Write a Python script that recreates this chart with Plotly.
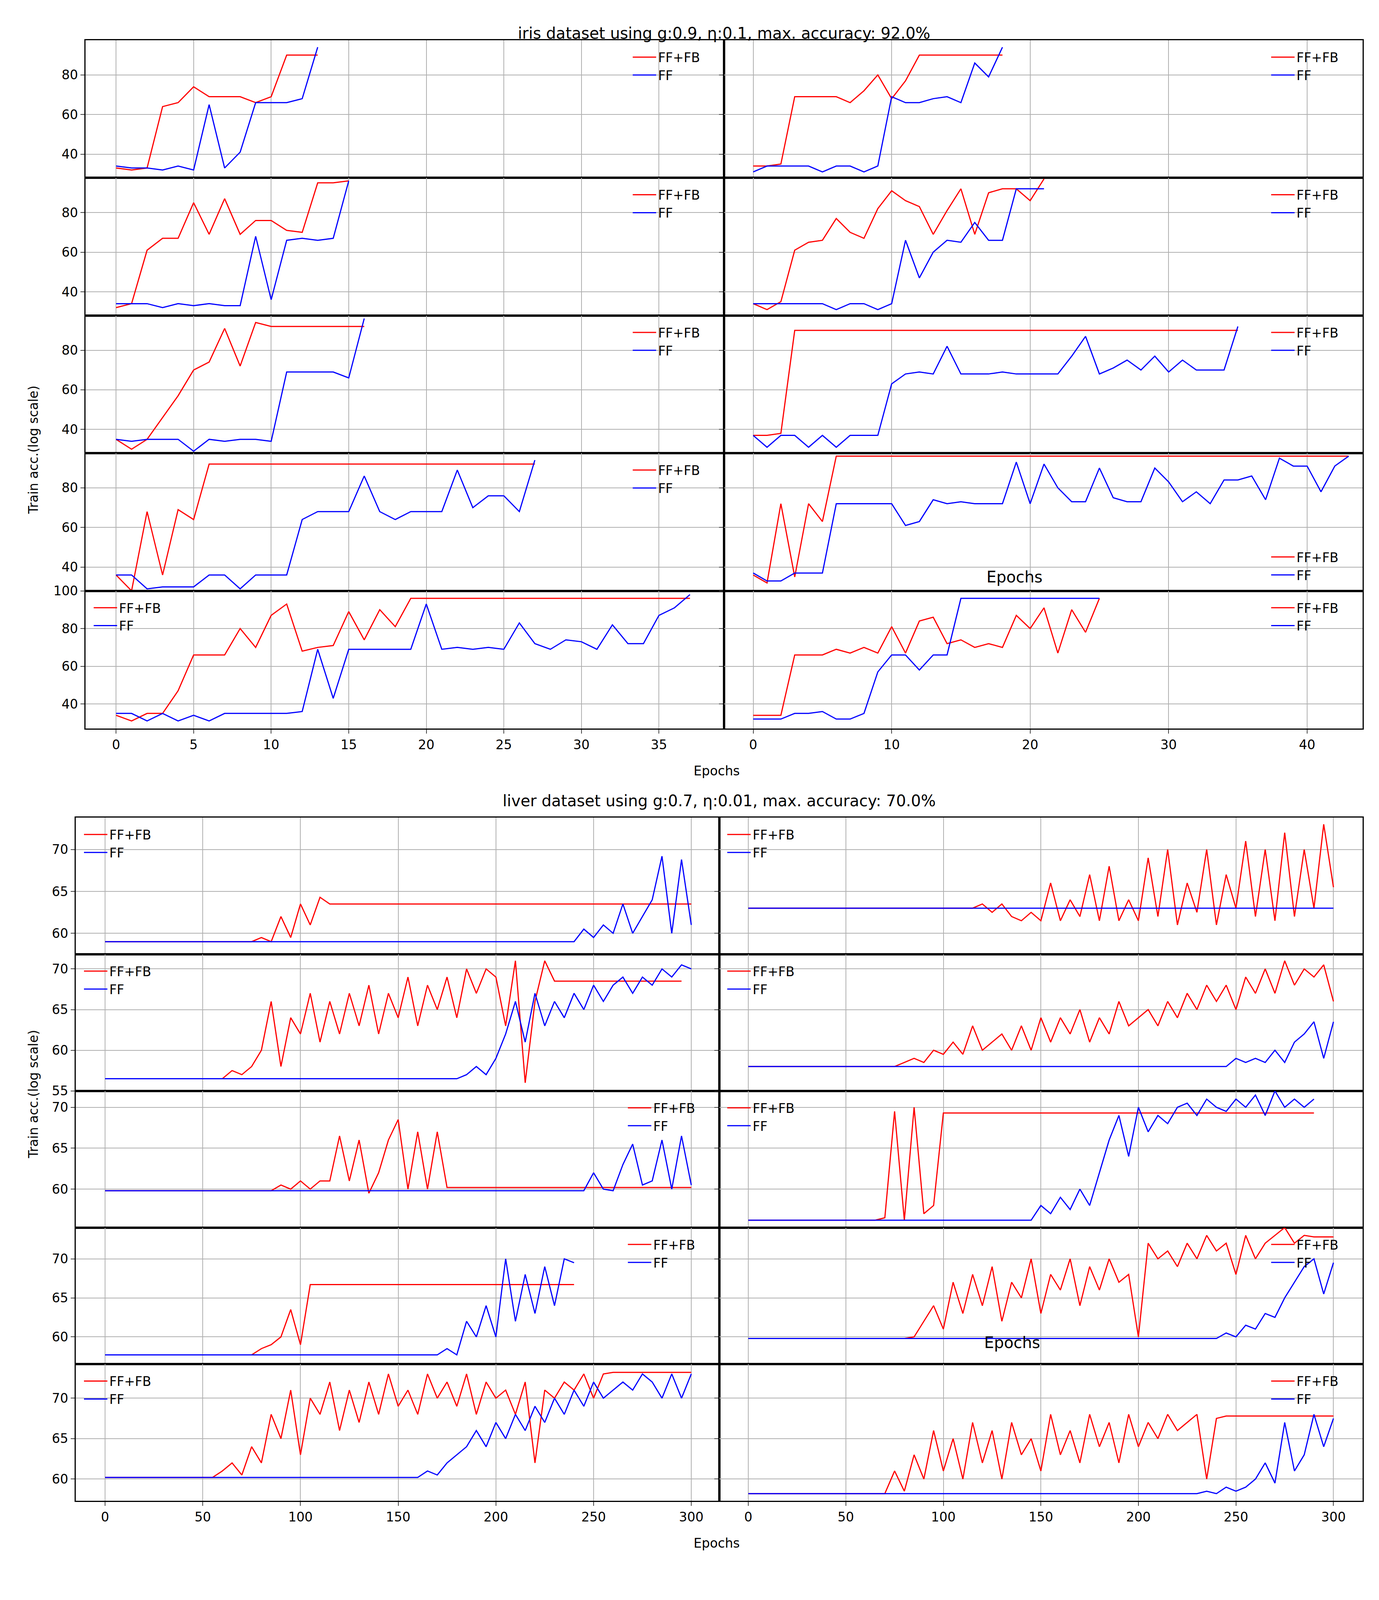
import plotly.graph_objects as go

PXW, PXH = 1131.0, 1568.0  # reference measured at this scale

# ---------------- iris data (one value per epoch) ----------------
iris_ffb = [
    [33, 32, 33, 64, 66, 74, 69, 69, 69, 66, 69, 90, 90, 90],
    [34, 34, 35, 69, 69, 69, 69, 66, 72, 80, 68, 77, 90, 90, 90, 90, 90, 90, 90],
    [32, 34, 61, 67, 67, 85, 69, 87, 69, 76, 76, 71, 70, 95, 95, 96],
    [34, 31, 35, 61, 65, 66, 77, 70, 67, 82, 91, 86, 83, 69, 81, 92, 69, 90, 92, 92, 86, 97],
    [35, 30, 35, 46, 57, 70, 74, 91, 72, 94, 92, 92, 92, 92, 92, 92, 92],
    [37, 37, 38] + [90] * 33,
    [36, 28, 68, 36, 69, 64] + [92] * 22,
    [36, 32, 72, 35, 72, 63] + [96] * 38,
    [34, 31, 35, 35, 47, 66, 66, 66, 80, 70, 87, 93, 68, 70, 71, 89, 74, 90, 81] + [96] * 19,
    [34, 34, 34, 66, 66, 66, 69, 67, 70, 67, 81, 67, 84, 86, 72, 74, 70, 72, 70, 87, 80, 91, 67, 90, 78, 96],
]
iris_ff = [
    [34, 33, 33, 32, 34, 32, 65, 33, 41, 66, 66, 66, 68, 94],
    [31, 34, 34, 34, 34, 31, 34, 34, 31, 34, 69, 66, 66, 68, 69, 66, 86, 79, 94],
    [34, 34, 34, 32, 34, 33, 34, 33, 33, 68, 36, 66, 67, 66, 67, 96],
    [34, 34, 34, 34, 34, 34, 31, 34, 34, 31, 34, 66, 47, 60, 66, 65, 75, 66, 66, 92, 92, 92],
    [35, 34, 35, 35, 35, 29, 35, 34, 35, 35, 34, 69, 69, 69, 69, 66, 96],
    [37, 31, 37, 37, 31, 37, 31, 37, 37, 37, 63, 68, 69, 68, 82, 68, 68, 68, 69, 68, 68, 68,
     68, 77, 87, 68, 71, 75, 70, 77, 69, 75, 70, 70, 70, 92],
    [36, 36, 29, 30, 30, 30, 36, 36, 29, 36, 36, 36, 64, 68, 68, 68, 86, 68, 64, 68, 68, 68,
     89, 70, 76, 76, 68, 94],
    [37, 33, 33, 37, 37, 37, 72, 72, 72, 72, 72, 61, 63, 74, 72, 73, 72, 72, 72, 93, 72, 92,
     80, 73, 73, 90, 75, 73, 73, 90, 83, 73, 78, 72, 84, 84, 86, 74, 95, 91, 91, 78, 91, 96],
    [35, 35, 31, 35, 31, 34, 31, 35, 35, 35, 35, 35, 36, 69, 43, 69, 69, 69, 69, 69, 93, 69,
     70, 69, 70, 69, 83, 72, 69, 74, 73, 69, 82, 72, 72, 87, 91, 98],
    [32, 32, 32, 35, 35, 36, 32, 32, 35, 57, 66, 66, 58, 66, 66] + [96] * 11,
]

# ---------------- liver data (read every 5 epochs) ----------------
liver_step = 5
liver_ffb = [
    [59] * 16 + [59.5, 59, 62, 59.5, 63.5, 61, 64.3] + [63.5] * 38,
    [63] * 24 + [63.5, 62.5, 63.5, 62, 61.5, 62.5, 61.5, 66, 61.5, 64, 62, 67, 61.5, 68, 61.5,
                 64, 61.5, 69, 62, 70, 61, 66, 62.5, 70, 61, 67, 63, 71, 62, 70, 61.5, 72, 62,
                 70, 63, 73, 65.5],
    [56.5] * 13 + [57.5, 57, 58, 60, 66, 58, 64, 62, 67, 61, 66, 62, 67, 63, 68, 62, 67, 64,
                   69, 63, 68, 65, 69, 64, 70, 67, 70, 69, 63, 71, 56, 66, 71] + [68.5] * 14,
    [58] * 16 + [58.5, 59, 58.5, 60, 59.5, 61, 59.5, 63, 60, 61, 62, 60, 63, 60, 64, 61, 64,
                 62, 65, 61, 64, 62, 66, 63, 64, 65, 63, 66, 64, 67, 65, 68, 66, 68, 65, 69,
                 67, 70, 67, 71, 68, 70, 69, 70.5, 66],
    [59.8] * 18 + [60.5, 60, 61, 60, 61, 61, 66.5, 61, 66, 59.5, 62, 66, 68.5, 60, 67, 60, 67]
    + [60.2] * 26,
    [56.2] * 14 + [56.5, 69.5, 56.2, 70, 57, 58] + [69.3] * 39,
    [57.7] * 16 + [58.5, 59, 60, 63.5, 59] + [66.7] * 28,
    [59.8] * 17 + [60, 62, 64, 61, 67, 63, 68, 64, 69, 62, 67, 65, 70, 63, 68, 66, 70, 64, 69,
                   66, 70, 67, 68, 60, 72, 70, 71, 69, 72, 70, 73, 71, 72, 68, 73, 70, 72, 73,
                   74, 72, 73, 72.8, 72.8, 72.8],
    [60.2] * 12 + [61, 62, 60.5, 64, 62, 68, 65, 71, 63, 70, 68, 72, 66, 71, 67, 72, 68, 73,
                   69, 71, 68, 73, 70, 72, 69, 73, 68, 72, 70, 71, 68, 72, 62, 71, 70, 72, 71,
                   73, 70, 73] + [73.2] * 9,
    [58.2] * 15 + [61, 58.5, 63, 60, 66, 61, 65, 60, 67, 62, 66, 60, 67, 63, 65, 61, 68, 63,
                   66, 62, 68, 64, 67, 62, 68, 64, 67, 65, 68, 66, 67, 68, 60, 67.5]
    + [67.8] * 12,
]
liver_ff = [
    [59] * 49 + [60.5, 59.5, 61, 60, 63.5, 60, 62, 64, 69.2, 60, 68.8, 61],
    [63] * 61,
    [56.5] * 37 + [57, 58, 57, 59, 62, 66, 61, 67, 63, 66, 64, 67, 65, 68, 66, 68, 69, 67,
                   69, 68, 70, 69, 70.5, 70],
    [58] * 50 + [59, 58.5, 59, 58.5, 60, 58.5, 61, 62, 63.5, 59, 63.5],
    [59.8] * 50 + [62, 60, 59.8, 63, 65.5, 60.5, 61, 66, 60, 66.5, 60.5],
    [56.2] * 30 + [58, 57, 59, 57.5, 60, 58, 62, 66, 69, 64, 70, 67, 69, 68, 70, 70.5, 69, 71,
                   70, 69.5, 71, 70, 71.5, 69, 72, 70, 71, 70, 71],
    [57.7] * 35 + [58.5, 57.7, 62, 60, 64, 60, 70, 62, 68, 63, 69, 64, 70, 69.5],
    [59.8] * 49 + [60.5, 60, 61.5, 61, 63, 62.5, 65, 67, 69, 70, 65.5, 69.5],
    [60.2] * 33 + [61, 60.5, 62, 63, 64, 66, 64, 67, 65, 68, 66, 69, 67, 70, 68, 71, 69, 72,
                   70, 71, 72, 71, 73, 72, 70, 73, 70, 73],
    [58.2] * 47 + [58.5, 58.2, 59, 58.5, 59, 60, 62, 59.5, 67, 61, 63, 68, 64, 67.5],
]

iris_yticks = [40, 60, 80]
iris_yticks_last = [40, 60, 80, 100]
liver_yticks = [55, 60, 65, 70]

# ---------------- layout geometry (reference pixels at 1131x1568) ----------------
def px(v):
    return v / PXW

def py(v):
    return 1 - v / PXH

fig = go.Figure()
layout = {}
FONT = "DejaVu Sans"

sections = [
    dict(ffb=iris_ffb, ff=iris_ff, step=1, top=30, bot=725,
         cols=[(68, 594), (594, 1120)],
         xr=[[-1.96, 39.2], [-2.1, 44.0]],
         xt=[[0, 5, 10, 15, 20, 25, 30, 35], [0, 10, 20, 30, 40]],
         yr=[[28, 97.5]] * 4 + [[27, 100]],
         yt=[iris_yticks] * 4 + [iris_yticks_last],
         leg=[("tr", "tr"), ("tr", "tr"), ("tr", "tr"), ("tr", "br"), ("tl", "tr")]),
    dict(ffb=liver_ffb, ff=liver_ff, step=liver_step, top=815, bot=1505,
         cols=[(60, 590), (590, 1120)],
         xr=[[-14.9, 314.3], [-14.9, 314.9]],
         xt=[[0, 50, 100, 150, 200, 250, 300]] * 2,
         yr=[[57.5, 73.8], [55, 71.8], [55.3, 72], [56.5, 74], [57.3, 74.2]],
         yt=[liver_yticks] * 5,
         leg=[("tl", "tl"), ("tl", "tl"), ("tr", "tl"), ("tr", "tr"), ("tl", "tr")]),
]

k = 0
for s in sections:
    rh = (s["bot"] - s["top"]) / 5.0
    for r in range(5):
        for c in range(2):
            i = r * 2 + c
            k += 1
            xa, ya = f"xaxis{k}", f"yaxis{k}"
            xs, ys = f"x{k}", f"y{k}"
            x0, x1 = s["cols"][c]
            t, b = s["top"] + r * rh, s["top"] + (r + 1) * rh
            last = r == 4
            common = dict(showline=True, linecolor="black", linewidth=3, mirror=True,
                          showgrid=True, gridcolor="#b0b0b0", gridwidth=2, zeroline=False,
                          ticks="outside", ticklen=10, tickwidth=2,
                          tickfont=dict(family=FONT, size=33, color="black"))
            layout[xa] = dict(common, domain=[px(x0), px(x1)], anchor=ys, range=s["xr"][c],
                              tickvals=s["xt"][c], showticklabels=last)
            layout[ya] = dict(common, domain=[py(b), py(t)], anchor=xs, range=s["yr"][r],
                              tickvals=s["yt"][r], showticklabels=(c == 0))
            lg = "legend" if k == 1 else f"legend{k}"
            pos = s["leg"][r][c]
            if pos == "tr":
                lx, ly, xan, yan = px(x1 - 18), py(t + 6), "right", "top"
            elif pos == "tl":
                lx, ly, xan, yan = px(x0 + 5), py(t + 6), "left", "top"
            else:
                lx, ly, xan, yan = px(x1 - 18), py(b - 5), "right", "bottom"
            layout[lg] = dict(x=lx, y=ly, xanchor=xan, yanchor=yan, bgcolor="rgba(0,0,0,0)",
                              font=dict(family=FONT, size=33, color="black"),
                              itemwidth=60, tracegroupgap=0)
            for name, data, col in (("FF+FB", s["ffb"][i], "red"), ("FF", s["ff"][i], "blue")):
                fig.add_trace(go.Scatter(
                    x=[j * s["step"] for j in range(len(data))], y=data, mode="lines",
                    name=name, line=dict(color=col, width=3), xaxis=xs, yaxis=ys, legend=lg))

annotations = [
    dict(text="iris dataset using g:0.9, η:0.1, max. accuracy: 92.0%", x=px(594), y=py(13)),
    dict(text="liver dataset using g:0.7, η:0.01, max. accuracy: 70.0%", x=px(590), y=py(798)),
    dict(text="Epochs", x=px(588), y=py(768), size=33),
    dict(text="Epochs", x=px(588), y=py(1556), size=33),
    dict(text="Epochs", x=px(857), y=py(572), size=40),
    dict(text="Epochs", x=px(855), y=py(1355), size=40),
    dict(text="Train acc.(log scale)", x=px(18), y=py(378), size=33, angle=-90),
    dict(text="Train acc.(log scale)", x=px(18), y=py(1160), size=33, angle=-90),
]
ann = []
for a in annotations:
    ann.append(dict(text=a["text"], x=a["x"], y=a["y"], xref="paper", yref="paper",
                    showarrow=False, textangle=a.get("angle", 0),
                    font=dict(family=FONT, size=a.get("size", 40), color="black")))

fig.update_layout(**layout)
fig.update_layout(autosize=True, margin=dict(l=0, r=0, t=0, b=0),
                  paper_bgcolor="white", plot_bgcolor="white", annotations=ann)
fig.write_html("out.html", default_width="100%", default_height="98vh")
